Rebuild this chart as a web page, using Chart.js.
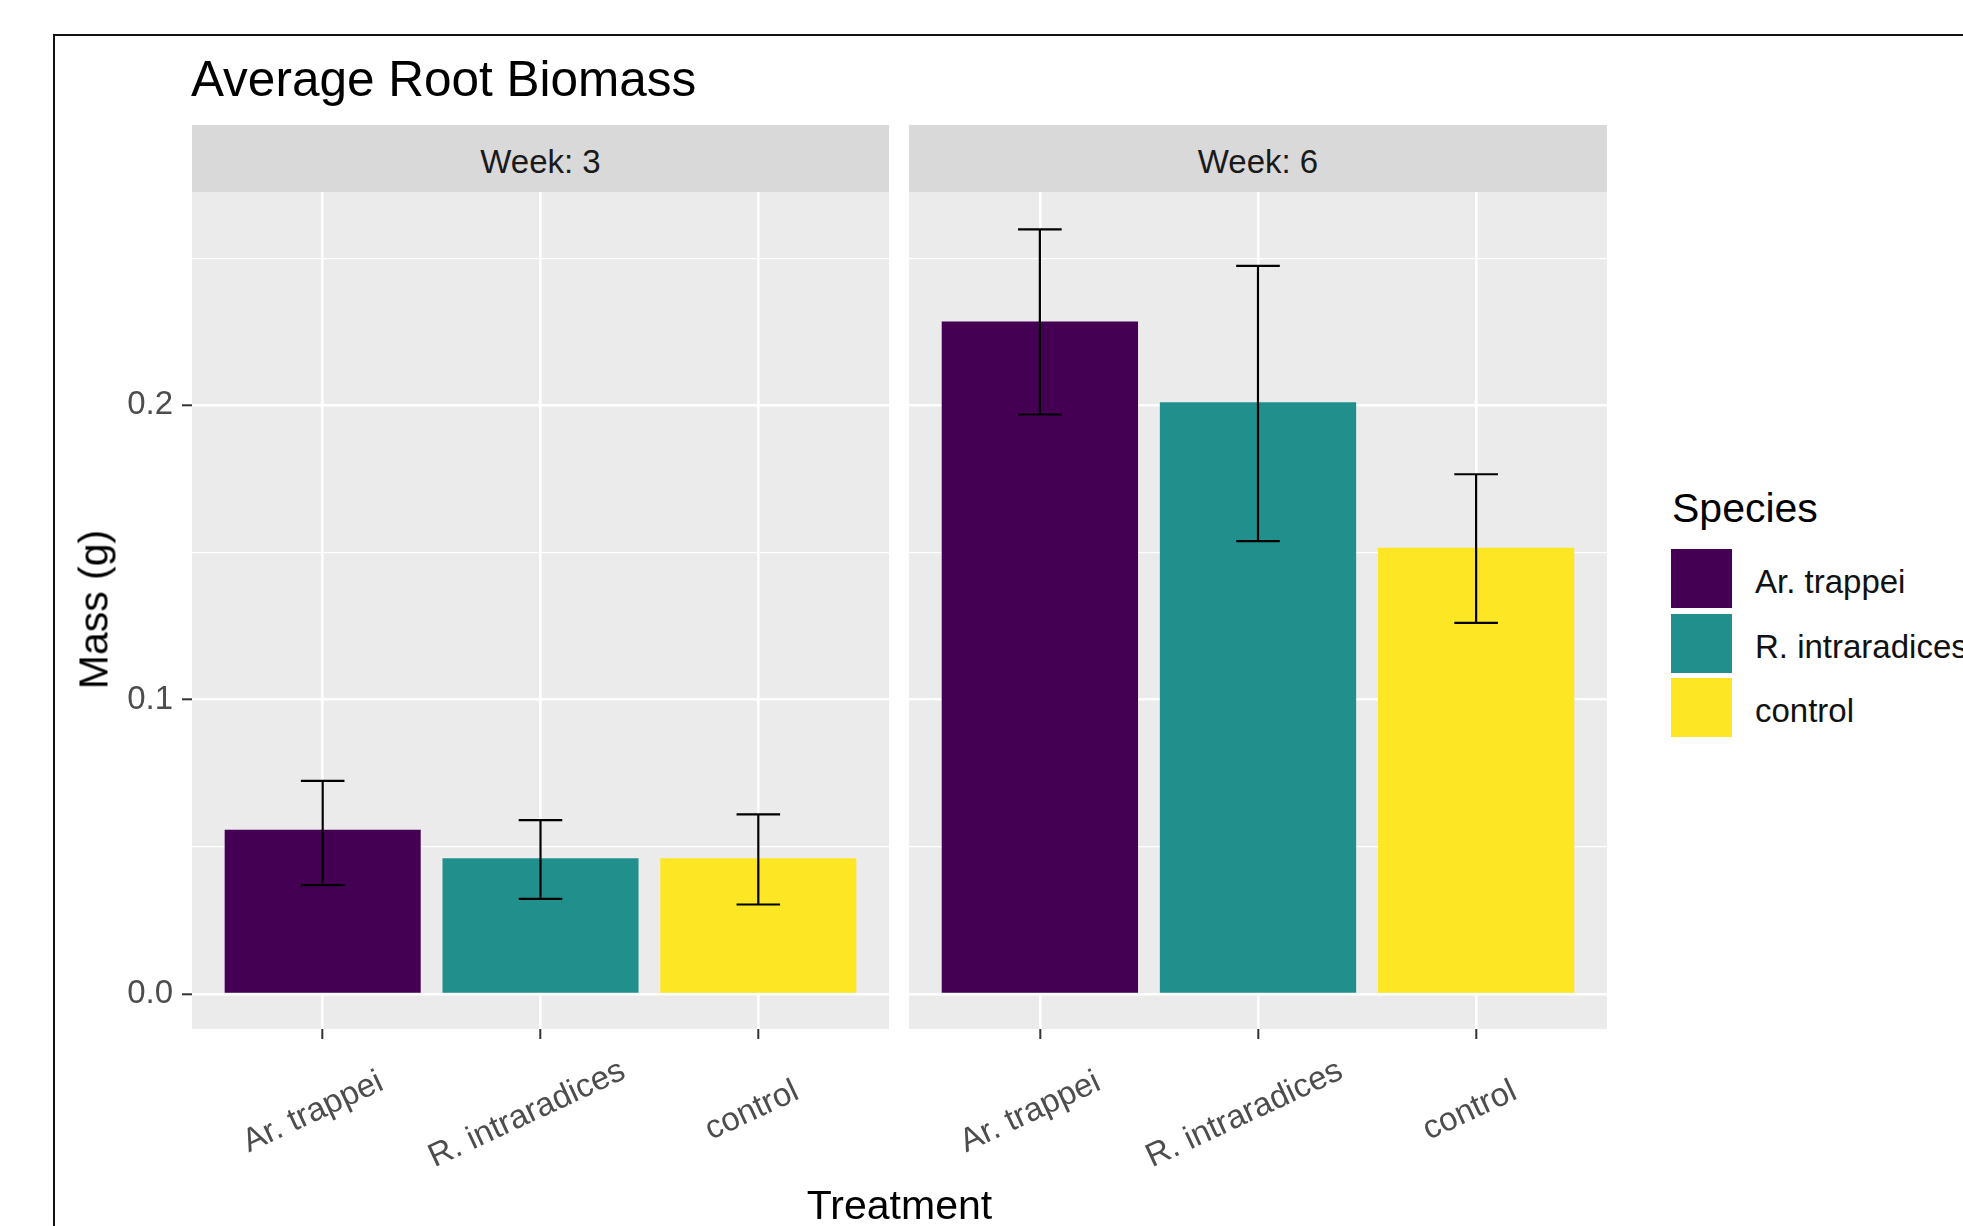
<!DOCTYPE html>
<html lang="en">

<head>
    <meta charset="UTF-8">
    <title>Average Root Biomass</title>
    <script src="https://cdn.jsdelivr.net/npm/chart.js@4"></script>
    <style>
        body {
            margin: 0;
            width: 1963px;
            height: 1226px;
            overflow: hidden;
            position: relative;
            background: #ffffff;
            font-family: "Liberation Sans", Arial, sans-serif;
        }

        .frame {
            position: absolute;
            left: 53px;
            top: 34px;
            width: 3000px;
            height: 3000px;
            border: 2px solid #111111;
        }

        .title {
            position: absolute;
            left: 191px;
            top: 54px;
            font-size: 49.5px;
            line-height: 49.5px;
            color: #000000;
            white-space: nowrap;
        }

        .strip {
            position: absolute;
            top: 125px;
            height: 67px;
            background: #D9D9D9;
            color: #1A1A1A;
            font-size: 33px;
            line-height: 33px;
            display: flex;
            align-items: center;
            justify-content: center;
            padding-top: 6px;
            box-sizing: border-box;
        }

        canvas {
            position: absolute;
            top: 150px;
        }

        .axis-x {
            position: absolute;
            left: 192px;
            width: 1415px;
            top: 1185px;
            text-align: center;
            font-size: 41px;
            line-height: 41px;
        }

        .axis-y {
            position: absolute;
            left: -106px;
            top: 589px;
            width: 400px;
            height: 41px;
            text-align: center;
            font-size: 41px;
            line-height: 41px;
            transform: rotate(-90deg);
        }

        .legend-title {
            position: absolute;
            left: 1672px;
            top: 488px;
            font-size: 41px;
            line-height: 41px;
        }

        .key {
            position: absolute;
            left: 1671px;
            width: 61px;
            height: 59px;
        }

        .key-label {
            position: absolute;
            left: 1755px;
            font-size: 33px;
            line-height: 33px;
            color: #111111;
            white-space: nowrap;
        }
    </style>
</head>

<body>
    <div class="frame"></div>
    <div class="title">Average Root Biomass</div>
    <div class="strip" id="strip3" style="left:192px;width:697px;"></div>
    <div class="strip" id="strip6" style="left:909px;width:698px;"></div>

    <canvas id="week3" width="900" height="1076" style="left:0px;"></canvas>
    <canvas id="week6" width="900" height="1076" style="left:717px;"></canvas>

    <div class="axis-x">Treatment</div>
    <div class="axis-y">Mass (g)</div>

    <div class="legend-title">Species</div>
    <div id="legend"></div>

    <script>
        const treatments = ["Ar. trappei", "R. intraradices", "control"];
        const weeks = ["Week: 3", "Week: 6"];

        const week3Mass = [0.0558, 0.0461, 0.0461];
        const week3Lower = [0.0370, 0.0323, 0.0304];
        const week3Upper = [0.0724, 0.0591, 0.0610];

        const week6Mass = [0.2285, 0.2011, 0.1516];
        const week6Lower = [0.1969, 0.1539, 0.1261];
        const week6Upper = [0.2598, 0.2474, 0.1766];

        const yTickValues = [0, 0.1, 0.2];
        const yMinorValues = [0.05, 0.15, 0.25];

        const speciesColors = ["#440154", "#21908C", "#FDE725"];

        const FONT = '"Liberation Sans", Arial, sans-serif';

        document.getElementById("strip3").textContent = weeks[0];
        document.getElementById("strip6").textContent = weeks[1];

        // legend keys + labels
        const legend = document.getElementById("legend");
        treatments.forEach((name, i) => {
            const key = document.createElement("div");
            key.className = "key";
            key.style.top = (549 + i * 64.5) + "px";
            key.style.background = speciesColors[i];
            legend.appendChild(key);

            const label = document.createElement("div");
            label.className = "key-label";
            label.style.top = (565 + i * 64.5) + "px";
            label.textContent = name;
            legend.appendChild(label);
        });

        // grey panel behind the bars
        const panelBackground = {
            id: "panelBackground",
            beforeDraw(chart) {
                const { ctx, chartArea: a } = chart;
                ctx.save();
                ctx.fillStyle = "#EBEBEB";
                ctx.fillRect(a.left, a.top, a.right - a.left, a.bottom - a.top);
                ctx.restore();
            }
        };

        const errorBars = {
            id: "errorBars",
            afterDatasetsDraw(chart, args, opts) {
                const { ctx, scales: { x, y } } = chart;
                ctx.save();
                ctx.strokeStyle = "#000000";
                ctx.lineWidth = 2.2;
                opts.lower.forEach((lo, i) => {
                    const cx = x.getPixelForValue(i + 1);
                    const half = x.getPixelForValue(i + 1 + opts.capWidth / 2) - cx;
                    const yLo = y.getPixelForValue(lo);
                    const yHi = y.getPixelForValue(opts.upper[i]);
                    ctx.beginPath();
                    ctx.moveTo(cx, yLo);
                    ctx.lineTo(cx, yHi);
                    ctx.moveTo(cx - half, yLo);
                    ctx.lineTo(cx + half, yLo);
                    ctx.moveTo(cx - half, yHi);
                    ctx.lineTo(cx + half, yHi);
                    ctx.stroke();
                });
                ctx.restore();
            }
        };

        // x labels at 25 degrees, roughly centred under the tick like ggplot
        const slantedLabels = {
            id: "slantedLabels",
            afterDraw(chart) {
                const { ctx, chartArea, scales: { x } } = chart;
                ctx.save();
                ctx.font = "33px " + FONT;
                ctx.fillStyle = "#4D4D4D";
                ctx.textBaseline = "middle";
                ctx.textAlign = "left";
                x.ticks.forEach(t => {
                    const label = treatments[t.value - 1];
                    const w = ctx.measureText(label).width;
                    ctx.save();
                    ctx.translate(x.getPixelForValue(t.value), chartArea.bottom + 79);
                    ctx.rotate(-25 * Math.PI / 180);
                    ctx.fillText(label, -w * 0.57, 0);
                    ctx.restore();
                });
                ctx.restore();
            }
        };

        function makePanel(id, mass, lower, upper, showY, padRight) {
            return new Chart(document.getElementById(id), {
                type: "bar",
                data: {
                    datasets: [{
                        data: mass.map((v, i) => ({ x: i + 1, y: v })),
                        backgroundColor: speciesColors,
                        borderWidth: 0,
                        barPercentage: 0.9,
                        categoryPercentage: 1
                    }]
                },
                options: {
                    responsive: false,
                    animation: false,
                    devicePixelRatio: 1,
                    layout: { padding: { top: 42, right: padRight, left: 0, bottom: 0 } },
                    plugins: {
                        legend: { display: false },
                        tooltip: { enabled: false },
                        errorBars: { lower: lower, upper: upper, capWidth: 0.2 }
                    },
                    scales: {
                        x: {
                            type: "linear",
                            min: 0.4,
                            max: 3.6,
                            bounds: "data",
                            offset: false,
                            afterBuildTicks: s => { s.ticks = treatments.map((t, i) => ({ value: i + 1 })); },
                            afterFit: s => { s.height = 197; },
                            ticks: { display: false },
                            border: { display: false },
                            grid: {
                                offset: false,
                                color: "#FFFFFF",
                                lineWidth: 2.6,
                                tickColor: "#333333",
                                tickLength: 10,
                                tickWidth: 2
                            }
                        },
                        y: {
                            type: "linear",
                            min: -0.0119,
                            max: 0.2725,
                            bounds: "data",
                            afterBuildTicks: s => {
                                s.ticks = yTickValues.concat(yMinorValues)
                                    .sort((a, b) => a - b)
                                    .map(v => ({ value: v }));
                            },
                            afterFit: s => { s.width = 192; },
                            border: { display: false },
                            ticks: {
                                display: showY,
                                padding: 9,
                                color: "#4D4D4D",
                                font: { family: FONT, size: 33 },
                                callback: v => yTickValues.includes(v) ? v.toFixed(1) : ""
                            },
                            grid: {
                                color: "#FFFFFF",
                                lineWidth: c => yTickValues.includes(c.tick.value) ? 2.6 : 1.3,
                                tickColor: c => showY && yTickValues.includes(c.tick.value) ? "#333333" : "rgba(0,0,0,0)",
                                tickLength: 10,
                                tickWidth: 2
                            }
                        }
                    }
                },
                plugins: [panelBackground, errorBars, slantedLabels]
            });
        }

        makePanel("week3", week3Mass, week3Lower, week3Upper, true, 11);
        makePanel("week6", week6Mass, week6Lower, week6Upper, false, 10);
    </script>
</body>

</html>
